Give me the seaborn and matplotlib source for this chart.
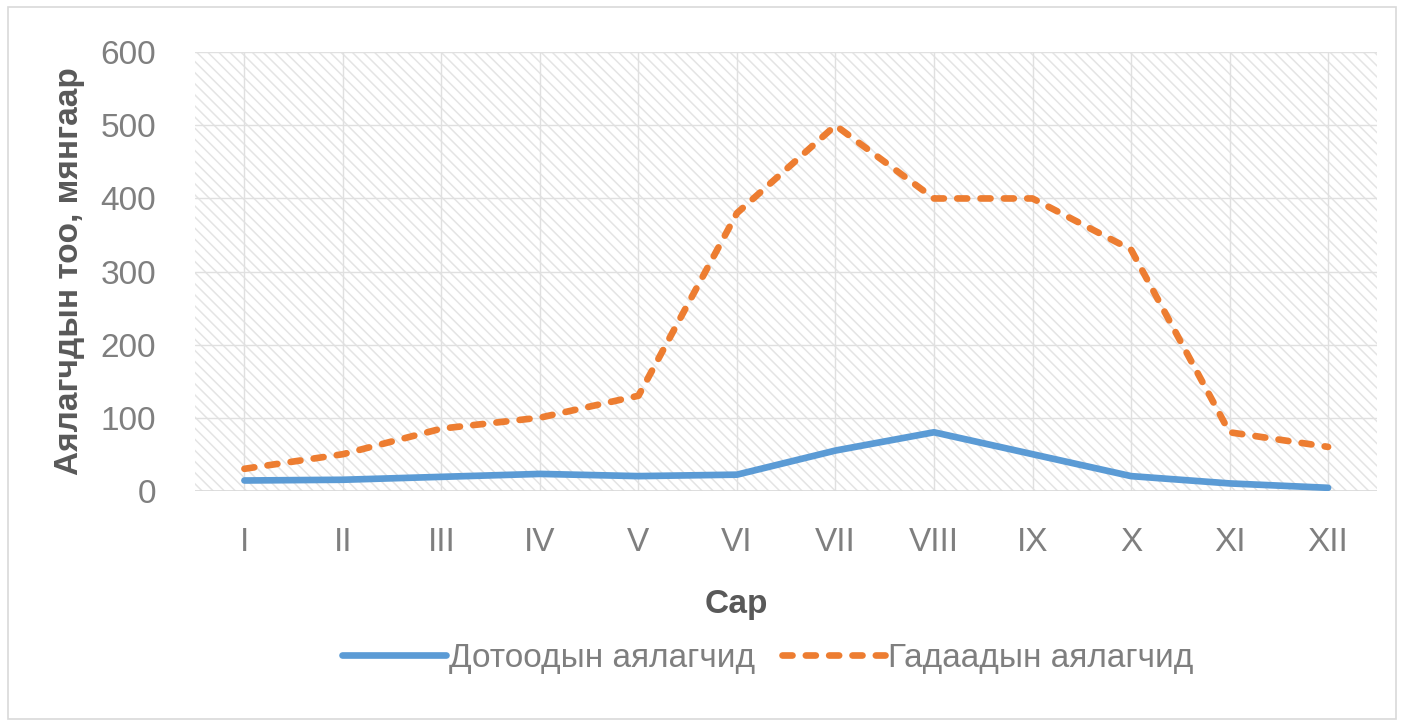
import matplotlib
matplotlib.use("Agg")
import matplotlib.pyplot as plt
from matplotlib.patches import Rectangle
import pandas as pd
import seaborn as sns

# chart data
months = ['I', 'II', 'III', 'IV', 'V', 'VI', 'VII', 'VIII', 'IX', 'X', 'XI', 'XII']
domestic = [14, 15, 19, 23, 20, 22, 55, 80, 50, 20, 10, 4]
foreign = [30, 50, 85, 100, 130, 380, 500, 400, 400, 330, 80, 60]
yticks = [0, 100, 200, 300, 400, 500, 600]

sns.set_theme(style='white')
plt.rcParams['font.family'] = ['Liberation Sans', 'DejaVu Sans']
plt.rcParams['hatch.linewidth'] = 1.1
plt.rcParams['hatch.color'] = '#e4e4e4'

df = pd.DataFrame({'Сар': months, 'dom': domestic, 'for': foreign})

fig = plt.figure(figsize=(14.04, 7.27), dpi=100)
ax = fig.add_axes([0.139, 0.325, 0.842, 0.603])

# hatched plot area like the Excel chart
ax.add_patch(Rectangle((0, 0), 1, 1, transform=ax.transAxes, facecolor='white',
                       edgecolor='#e4e4e4', hatch='\\\\\\', lw=0, zorder=0))

sns.lineplot(data=df, x='Сар', y='dom', ax=ax, color='#5b9bd5', lw=4.8,
             sort=False, label='Дотоодын аялагчид', solid_capstyle='round',
             solid_joinstyle='round', zorder=3)
sns.lineplot(data=df, x='Сар', y='for', ax=ax, color='#ed7d31', lw=4.8,
             sort=False, label='Гадаадын аялагчид', dashes=(1.5, 2.0),
             dash_capstyle='round', zorder=3)

ax.set_xlim(-0.5, 11.5)
ax.set_ylim(0, 600)
ax.set_yticks(yticks)
ax.set_xticks(range(len(months)))
ax.set_xticklabels(months)
ax.grid(True, color='#e0e0e0', lw=1)
ax.set_axisbelow(True)
for s in ax.spines.values():
    s.set_visible(False)
ax.axhline(0, color='#d9d9d9', lw=1.2, zorder=2)

ax.tick_params(axis='both', length=0, labelsize=24, labelcolor='#7f7f7f')
ax.tick_params(axis='y', pad=28)
ax.tick_params(axis='x', pad=26)

ax.set_xlabel('')
ax.set_ylabel('Аялагчдын тоо, мянгаар', fontsize=24, fontweight='bold',
              color='#595959')
ax.yaxis.set_label_coords(-0.093, 0.5)

fig.text(736 / 1404, 1 - 605 / 727, 'Сар', fontsize=24, fontweight='bold',
         color='#595959', ha='center', va='center')

ax.get_legend().remove()
h, l = ax.get_legend_handles_labels()
fig.legend(h, l, loc='center', bbox_to_anchor=(768 / 1404, 1 - 658 / 727),
           ncol=2, frameon=False, fontsize=24, labelcolor='#7f7f7f',
           handlelength=3.1, handletextpad=0.1, columnspacing=0.8)

# light outer frame of the chart
fig.patches.append(Rectangle((8 / 1404, 8 / 727), 1388 / 1404, 712 / 727,
                             transform=fig.transFigure, fill=False,
                             edgecolor='#d9d9d9', lw=1.2))

fig.savefig('out.png', dpi=100)
